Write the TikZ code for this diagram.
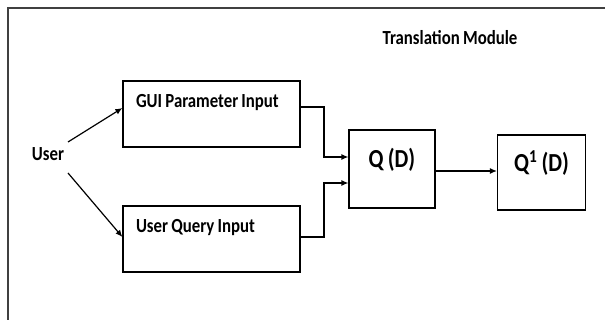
\documentclass[tikz,border=0pt]{standalone}
\usepackage{fontspec}
\setmainfont{Carlito}[FakeStretch=0.84,WordSpace=0.85]
\usetikzlibrary{arrows.meta,positioning,calc}

\begin{document}
\begin{tikzpicture}[x=1pt,y=-1pt,>={Latex[length=7pt,width=6pt]},font=\bfseries\fontsize{20}{22}\selectfont,
  inbox/.style={draw,line width=1.2pt,inner xsep=13pt,inner ysep=0pt,text width=151pt,align=flush left,text height=27pt,text depth=39pt},
  qbox/.style={draw,line width=1.2pt,inner sep=0pt,align=center,font=\bfseries\fontsize{26}{28}\selectfont},
  conn/.style={->,line width=1.2pt}]
  \useasboundingbox (0,0) rectangle (605,320);
  \clip (0,0) rectangle (605,320);
  % outer frame, cut at right and bottom
  \draw[line width=2pt,black!75] (8,340) -- (8,8.5) -- (620,8.5);
  \node (title) at (450,38) {Translation Module};
  % inputs
  \node (user) at (48,154) {User};
  \node[inbox] (gui) at (211.5,114) {\mbox{GUI Parameter Input}};
  \node[inbox] (uq) at (211.5,239) {\mbox{User Query Input}};
  % query boxes
  \node[qbox,minimum width=86pt,text height=38pt,text depth=40pt] (qd) at (392,169) {Q (D)};
  \node[qbox,minimum width=88pt,text height=37pt,text depth=38pt] (qd1) at (541.5,172.5) {Q\textsuperscript{1} (D)};
  % connectors
  \draw[conn] ([shift={(20,-12)}]user.center) -- ([yshift=6]gui.west);
  \draw[conn] ([shift={(20,19)}]user.center) -- ([yshift=2]uq.west);
  \draw[conn] ([yshift=7]gui.east) -| (324,157) -- (qd.west |- 0,157);
  \draw[conn] ([yshift=2]uq.east) -| (324,183) -- (qd.west |- 0,183);
  \draw[conn] ([yshift=-2]qd.east) -- ([yshift=-2]qd.east -| qd1.west);
\end{tikzpicture}
\end{document}
